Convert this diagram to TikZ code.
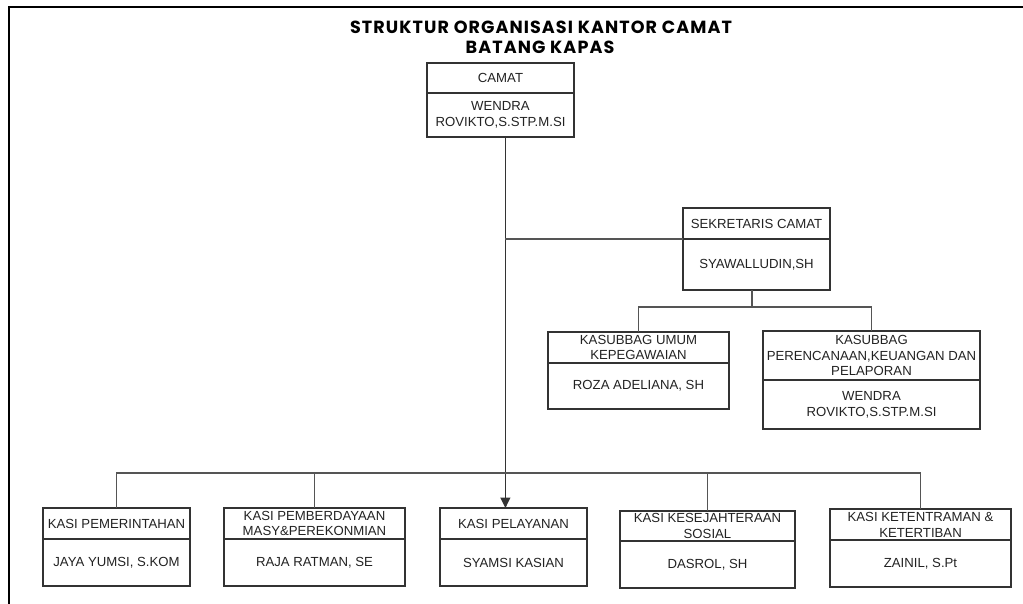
\documentclass[tikz,border=0pt]{standalone}
\usepackage{fontspec}
\setmainfont{Liberation Sans}
\newfontfamily\titlefont{Poppins}[LetterSpace=6]
\usetikzlibrary{arrows.meta, positioning}

\definecolor{boxline}{HTML}{333333}
\definecolor{linkline}{HTML}{555555}
\definecolor{boxtext}{HTML}{222222}

\begin{document}
\begin{tikzpicture}[
    x=0.02cm, y=-0.02cm,
    every node/.style={font=\fontsize{7.5}{9}\selectfont, text=boxtext},
    head/.style={rectangle, draw=boxline, line width=0.8pt, inner sep=0pt, outer sep=0pt, minimum height=0.62cm, align=center},
    post/.style={rectangle, draw=boxline, line width=0.8pt, inner sep=0pt, outer sep=0pt, minimum height=0.94cm, align=center},
    link/.style={draw=linkline, line width=0.8pt},
    arrow/.style={-{Triangle[length=2.1mm, width=2mm]}, draw=boxline, line width=0.7pt},
    title/.style={font=\titlefont\bfseries\fontsize{10}{12}\selectfont, text=black},
    frame/.style={line width=1.4pt, black}
]
\useasboundingbox (0,0) rectangle (1023,604);

% ============ FRAME AND TITLE ============
\draw[frame] (1023,7) -- (9,7) -- (9,604);
\node[title] (title) at (541,27) {STRUKTUR ORGANISASI KANTOR CAMAT};
\node[title] (title2) at (540,47) {BATANG KAPAS};

% ============ CAMAT ============
\node[head, minimum width=2.94cm, minimum height=0.6cm] (camat) at (500.5,78) {CAMAT};
\node[post, minimum width=2.94cm, minimum height=0.88cm, below=0pt of camat] (camatN) {WENDRA\\ROVIKTO,S.STP.M.SI};

% ============ SEKRETARIS ============
\node[head, minimum width=2.94cm] (sek) at (756.5,223.5) {SEKRETARIS CAMAT};
\node[post, minimum width=2.94cm, minimum height=1.02cm, below=0pt of sek] (sekN) {SYAWALLUDIN,SH};

% Kasubbag
\node[head, minimum width=3.62cm] (kum) at (638.5,347.5) {KASUBBAG UMUM\\KEPEGAWAIAN};
\node[post, minimum width=3.62cm, minimum height=0.92cm, below=0pt of kum] (kumN) {ROZA ADELIANA, SH};
\node[head, minimum width=4.34cm, minimum height=0.98cm] (kp) at (871.5,355.5) {KASUBBAG\\PERENCANAAN,KEUANGAN DAN\\PELAPORAN};
\node[post, minimum width=4.34cm, minimum height=0.98cm, below=0pt of kp] (kpN) {WENDRA\\ROVIKTO,S.STP.M.SI};

% ============ KASI (BOTTOM ROW) ============
\node[head, minimum width=2.94cm] (k1) at (116.5,523.5) {KASI PEMERINTAHAN};
\node[post, below=0pt of k1, minimum width=2.94cm] (k1N) {JAYA YUMSI, S.KOM};
\node[head, minimum width=3.62cm] (k2) at (314.5,523.5) {KASI PEMBERDAYAAN\\MASY\&PEREKONMIAN};
\node[post, below=0pt of k2, minimum width=3.62cm] (k2N) {RAJA RATMAN, SE};
\node[head, minimum width=2.94cm] (k3) at (513.5,523.5) {KASI PELAYANAN};
\node[post, below=0pt of k3, minimum width=2.94cm] (k3N) {SYAMSI KASIAN};
\node[head, minimum width=3.5cm, minimum height=0.6cm] (k4) at (707.5,526) {KASI KESEJAHTERAAN\\SOSIAL};
\node[post, below=0pt of k4, minimum width=3.5cm] (k4N) {DASROL, SH};
\node[head, minimum width=3.62cm] (k5) at (920.5,524.5) {KASI KETENTRAMAN \&\\KETERTIBAN};
\node[post, below=0pt of k5, minimum width=3.62cm] (k5N) {ZAINIL, S.Pt};

% ============ CONNECTORS ============
\coordinate (sekbus) at (752,307);
\coordinate (bus) at (505.4,473);

\draw[arrow] (camatN.south -| bus) -- (bus |- k3.north);
\draw[link] (sek.south west) -- (sek.south west -| bus);

\draw[link] (sekN.south -| sekbus) -- (sekbus);
\draw[link] (kum.north) |- (sekbus) -| (kp.north);

\draw[link] (k1.north) |- (bus) -| (k5.north);
\draw[link] (k2.north) -- (k2.north |- bus);
\draw[link] (k4.north) -- (k4.north |- bus);

\end{tikzpicture}
\end{document}
